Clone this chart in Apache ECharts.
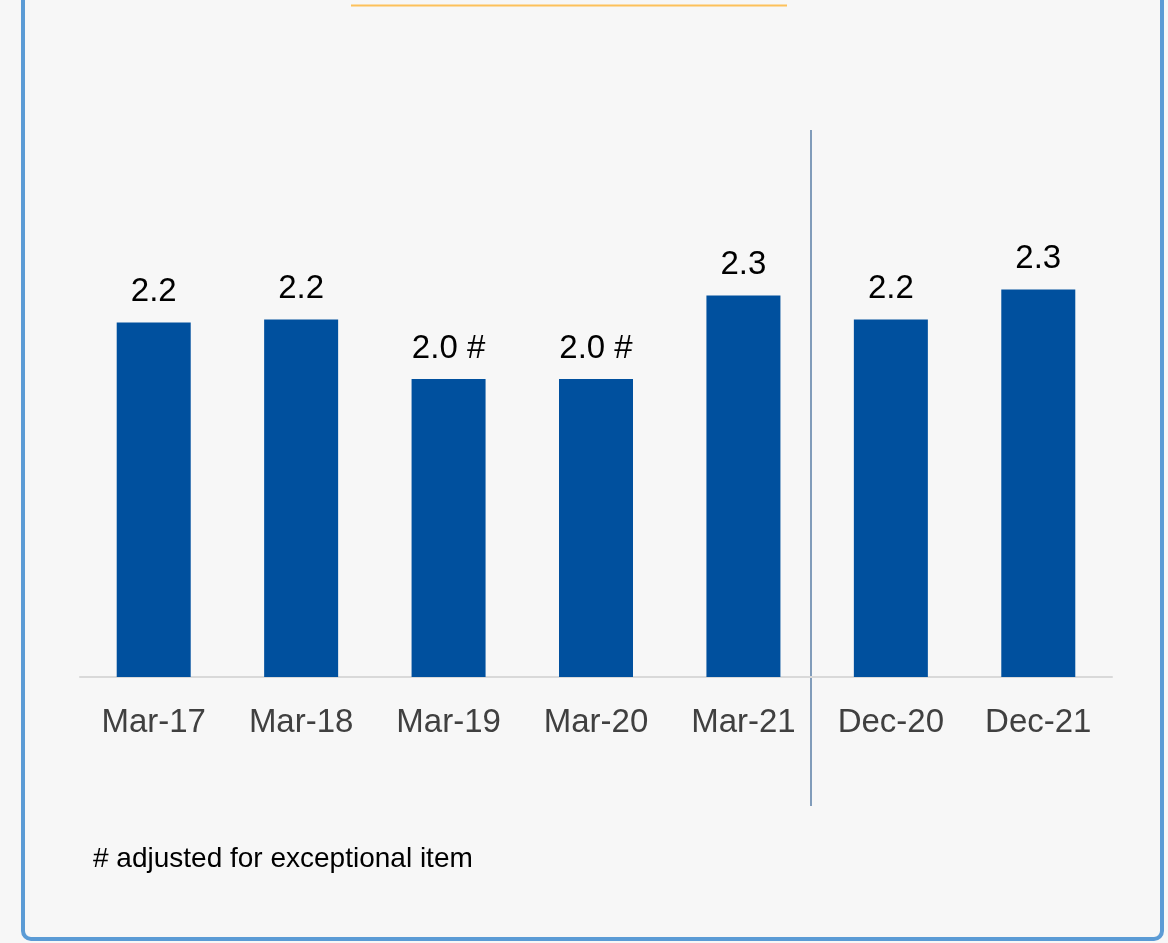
<!DOCTYPE html>
<html>
<head>
<meta charset="utf-8">
<script src="https://cdn.jsdelivr.net/npm/echarts@6/dist/echarts.min.js"></script>
<style>
  html, body { margin: 0; padding: 0; background: #f7f7f7; }
  #chart { width: 1168px; height: 943px; }
</style>
</head>
<body>
<div id="chart"></div>
<script>
// periods shown on the x axis
const categories = ["Mar-17", "Mar-18", "Mar-19", "Mar-20", "Mar-21", "Dec-20", "Dec-21"];
// bar values
const values = [2.19, 2.2, 2.0, 2.0, 2.28, 2.2, 2.3];
// marks after the value label
const labelSuffix = ["", "", " #", " #", "", "", ""];
const footnote = "# adjusted for exceptional item";

const fontFamily = "'Liberation Sans Narrow', 'Arial Narrow', 'Liberation Sans', Arial, sans-serif";

const myChart = echarts.init(document.getElementById("chart"));

const chartOption = {
  backgroundColor: "#f7f7f7",
  animation: false,
  grid: {
    left: 80,
    right: 56,
    top: 81,
    bottom: 266
  },
  xAxis: {
    type: "category",
    data: categories,
    axisLine: {
      lineStyle: { color: "#d9d9d9", width: 2 }
    },
    axisTick: { show: false },
    axisLabel: {
      interval: 0,
      color: "#404040",
      fontFamily: fontFamily,
      fontSize: 33,
      margin: 29
    }
  },
  yAxis: {
    type: "value",
    min: 1,
    max: 3,
    show: false,
    splitLine: { show: false }
  },
  series: [
    {
      type: "bar",
      data: values,
      barWidth: 74,
      itemStyle: { color: "#00509e" },
      label: {
        show: true,
        position: "top",
        distance: 14,
        color: "#000000",
        fontFamily: fontFamily,
        fontSize: 33,
        formatter: (p) => p.value.toFixed(1) + labelSuffix[p.dataIndex]
      }
    }
  ],
  graphic: [
    {
      // panel border (top edge is off the picture)
      type: "rect",
      shape: { x: 23, y: -30, width: 1139, height: 969, r: 8 },
      style: { fill: null, stroke: "#5b9bd5", lineWidth: 4 },
      silent: true
    },
    {
      // underline of the cut-off title
      type: "line",
      shape: { x1: 351, y1: 5.5, x2: 787, y2: 5.5 },
      style: { stroke: "#fdc15b", lineWidth: 2 }
    },
    {
      // separator between yearly and quarterly periods
      type: "line",
      shape: { x1: 811, y1: 130, x2: 811, y2: 806 },
      style: { stroke: "#5a7ea6", lineWidth: 1.5 }
    },
    {
      type: "text",
      left: 93,
      top: 845,
      style: {
        text: footnote,
        fill: "#000000",
        font: "28px " + fontFamily
      }
    }
  ]
};

myChart.setOption(chartOption);
</script>
</body>
</html>
